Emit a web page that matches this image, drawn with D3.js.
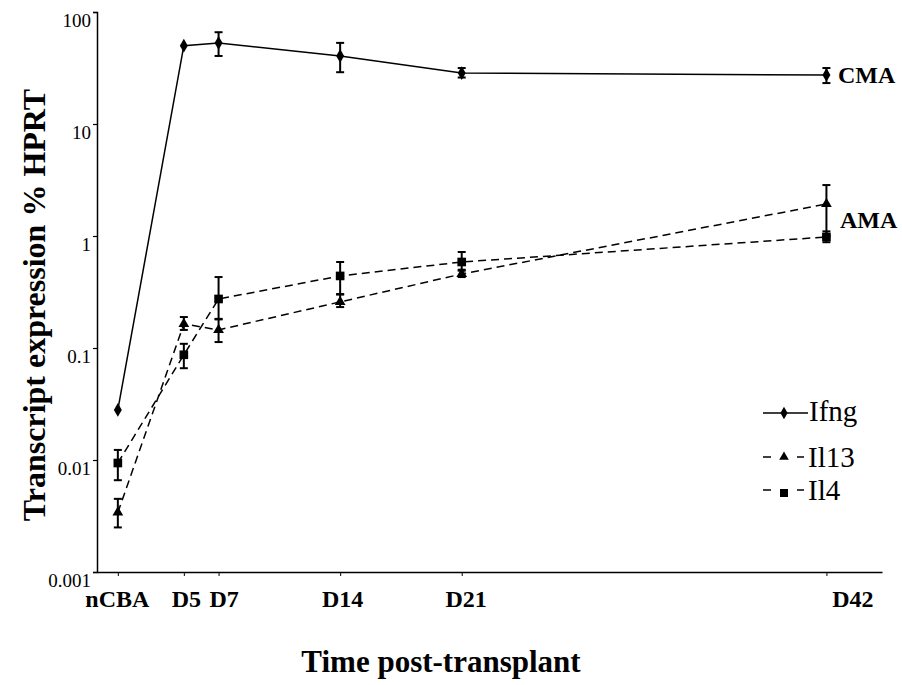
<!DOCTYPE html>
<html>
<head>
<meta charset="utf-8">
<script src="https://cdn.jsdelivr.net/npm/d3@7"></script>
<style>
  body { margin: 0; background: #fff; }
  text { font-family: "Liberation Serif", "Times New Roman", serif; fill: #000; }
</style>
</head>
<body>
<div id="plot"></div>
<script>
// time points (x) and their day value
const timepoints = ['nCBA', 'D5', 'D7', 'D14', 'D21', 'D42'];
const days = [1.2, 5, 7, 14, 21, 42];

// y tick values
const yTicks = [0.001, 0.01, 0.1, 1, 10, 100];
const yTickLabels = ['0.001', '0.01', '0.1', '1', '10', '100'];

// transcript expression, % HPRT (mean, lower err, upper err)
const ifng = [0.028, 50, 53, 40.5, 28.5, 27.4];
const ifngLo = [null, null, 40.5, 29, 26, 23.2];
const ifngHi = [null, null, 66, 53, 31.6, 31.6];

const il13 = [0.0034, 0.164, 0.145, 0.258, 0.458, 1.93];
const il13Lo = [0.0025, 0.145, 0.113, 0.232, 0.43, 1.0];
const il13Hi = [0.0045, 0.189, 0.182, 0.303, 0.49, 2.85];

const il4 = [0.0094, 0.087, 0.274, 0.44, 0.586, 0.98];
const il4Lo = [0.0066, 0.066, 0.18, 0.30, 0.5, 0.88];
const il4Hi = [0.0123, 0.109, 0.43, 0.586, 0.72, 1.1];

const seriesNames = ['Ifng', 'Il13', 'Il4'];

const width = 902;
const height = 685;

const svg = d3.select('#plot')
  .append('svg')
  .attr('width', width)
  .attr('height', height);

// scales
const x = d3.scaleLinear()
  .domain([0, 45.2])
  .range([97, 882]);

const y = d3.scaleLog()
  .domain([0.001, 100])
  .range([572, 12]);

// y axis
const yAxis = d3.axisLeft(y)
  .tickValues(yTicks)
  .tickFormat((d, i) => yTickLabels[i])
  .tickSize(4)
  .tickPadding(2);

const gy = svg.append('g')
  .attr('transform', `translate(${x(0)},0)`)
  .call(yAxis);
gy.select('.domain').attr('stroke', '#000').attr('stroke-width', 1.5);
gy.selectAll('.tick line').attr('stroke', '#000').attr('stroke-width', 1.2);
gy.selectAll('.tick text')
  .attr('dy', '0.75em')
  .style('font-size', '19px');

// x axis
const xAxis = d3.axisBottom(x)
  .tickValues(days)
  .tickFormat((d, i) => timepoints[i])
  .tickSize(4)
  .tickSizeOuter(0)
  .tickPadding(14);

const gx = svg.append('g')
  .attr('transform', `translate(0,${y(0.001)})`)
  .call(xAxis);
gx.select('.domain').attr('stroke', '#000').attr('stroke-width', 1.5);
gx.selectAll('.tick line').attr('stroke', '#000').attr('stroke-width', 1);
// labels sit a little right of their tick in the original
const labelNudge = { nCBA: -1, D5: 2, D7: 5, D14: 2, D21: 4, D42: 26 };
gx.selectAll('.tick text')
  .attr('dx', (d, i) => labelNudge[timepoints[i]])
  .style('font-size', '24px')
  .style('font-weight', 'bold');

// axis titles
svg.append('text')
  .attr('transform', `translate(45,${305}) rotate(-90)`)
  .attr('text-anchor', 'middle')
  .style('font-size', '32px')
  .style('font-weight', 'bold')
  .text('Transcript expression % HPRT');

svg.append('text')
  .attr('x', 441)
  .attr('y', 672)
  .attr('text-anchor', 'middle')
  .style('font-size', '31px')
  .style('font-weight', 'bold')
  .text('Time post-transplant');

// series
const series = [
  { name: 'Ifng', vals: ifng, lo: ifngLo, hi: ifngHi, dash: null, sym: d3.symbolDiamond, size: 55 },
  { name: 'Il13', vals: il13, lo: il13Lo, hi: il13Hi, dash: '8,5', sym: d3.symbolTriangle, size: 50 },
  { name: 'Il4', vals: il4, lo: il4Lo, hi: il4Hi, dash: '8,5', sym: d3.symbolSquare, size: 75 },
];

const line = d3.line()
  .x((d) => x(d.day))
  .y((d) => y(d.v));

const capW = 4;

series.forEach((s) => {
  const pts = s.vals.map((v, i) => ({
    day: days[i], v, lo: s.lo[i], hi: s.hi[i],
  }));
  const g = svg.append('g').attr('class', `series-${s.name}`);

  g.append('path')
    .datum(pts)
    .attr('d', line)
    .attr('fill', 'none')
    .attr('stroke', '#000')
    .attr('stroke-width', 1.5)
    .attr('stroke-dasharray', s.dash);

  // error bars
  const eb = g.selectAll('.err')
    .data(pts.filter((d) => d.lo !== null))
    .enter()
    .append('g')
    .attr('class', 'err')
    .attr('stroke', '#000')
    .attr('stroke-width', 2);
  eb.append('line')
    .attr('x1', (d) => x(d.day)).attr('x2', (d) => x(d.day))
    .attr('y1', (d) => y(d.lo)).attr('y2', (d) => y(d.hi));
  eb.append('line')
    .attr('x1', (d) => x(d.day) - capW).attr('x2', (d) => x(d.day) + capW)
    .attr('y1', (d) => y(d.lo)).attr('y2', (d) => y(d.lo));
  eb.append('line')
    .attr('x1', (d) => x(d.day) - capW).attr('x2', (d) => x(d.day) + capW)
    .attr('y1', (d) => y(d.hi)).attr('y2', (d) => y(d.hi));

  // markers
  g.selectAll('.pt')
    .data(pts)
    .enter()
    .append('path')
    .attr('class', 'pt')
    .attr('transform', (d) => `translate(${x(d.day)},${y(d.v)})`)
    .attr('d', d3.symbol().type(s.sym).size(s.size))
    .attr('fill', '#000');
});

// group labels
svg.append('text')
  .attr('x', 838)
  .attr('y', y(27.4) + 8)
  .style('font-size', '24px')
  .style('font-weight', 'bold')
  .text('CMA');

svg.append('text')
  .attr('x', 840)
  .attr('y', y(1.4) + 8)
  .style('font-size', '24px')
  .style('font-weight', 'bold')
  .text('AMA');

// legend
const legend = svg.append('g').attr('transform', 'translate(763,0)');
const legendY = [413, 457, 490];
series.forEach((s, i) => {
  const row = legend.append('g').attr('transform', `translate(0,${legendY[i]})`);
  if (s.dash) {
    // short dash, marker, short dash
    [[0, 8], [34, 41]].forEach(([a, b]) => {
      row.append('line')
        .attr('x1', a).attr('x2', b)
        .attr('y1', 0).attr('y2', 0)
        .attr('stroke', '#000')
        .attr('stroke-width', 1.5);
    });
  } else {
    row.append('line')
      .attr('x1', 0).attr('x2', 45)
      .attr('y1', 0).attr('y2', 0)
      .attr('stroke', '#000')
      .attr('stroke-width', 1.5);
  }
  row.append('path')
    .attr('transform', `translate(21,${s.name === 'Il4' ? 3 : 0})`)
    .attr('d', d3.symbol().type(s.sym).size(s.size - 10))
    .attr('fill', '#000');
  row.append('text')
    .attr('x', s.dash ? 45 : 46)
    .attr('y', 7)
    .attr('dy', s.name === 'Ifng' ? '0.05em' : '0.1em')
    .style('font-size', '29px')
    .text(seriesNames[i]);
});
</script>
</body>
</html>
